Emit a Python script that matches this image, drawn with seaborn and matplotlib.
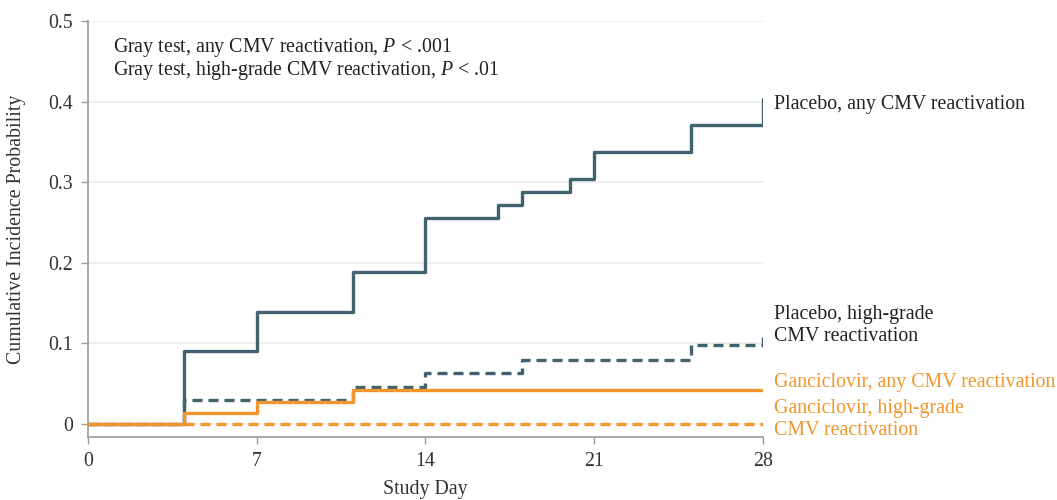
import matplotlib
matplotlib.use("Agg")
import matplotlib.pyplot as plt
import seaborn as sns
import pandas as pd

# Data
placebo_any_days = [0, 4, 7, 11, 14, 17, 18, 20, 21, 25, 28]
placebo_any_vals = [0, 0.091, 0.139, 0.188, 0.255, 0.272, 0.288, 0.304, 0.337, 0.371, 0.403]
placebo_high_days = [0, 4, 11, 14, 18, 25, 28]
placebo_high_vals = [0, 0.030, 0.046, 0.063, 0.080, 0.098, 0.114]
gan_any_days = [0, 4, 7, 11, 28]
gan_any_vals = [0, 0.014, 0.027, 0.042, 0.042]
gan_high_days = [4, 28]
gan_high_vals = [0, 0]
x_ticks = [0, 7, 14, 21, 28]
y_ticks = [0, 0.1, 0.2, 0.3, 0.4, 0.5]
y_tick_labels = ["0", "0.1", "0.2", "0.3", "0.4", "0.5"]

sns.set_theme(style="white")
plt.rcParams['font.family'] = ['Liberation Serif', 'DejaVu Serif']
plt.rcParams['mathtext.fontset'] = 'custom'
plt.rcParams['mathtext.rm'] = 'Liberation Serif'
plt.rcParams['mathtext.it'] = 'Liberation Serif:italic'

BLUE = "#41636f"
ORANGE = "#f0962c"
FS = 14.3

fig = plt.figure(figsize=(10.57, 5.0), dpi=100)
ax = fig.add_axes([88/1057, 1-437/500, (763-88)/1057, (437-21)/500])

for yv in y_ticks:
    ax.axhline(yv, color="#ebebeb", lw=1.2, zorder=0)

def draw(days, vals, color, ls):
    df = pd.DataFrame({"day": days, "p": vals})
    sns.lineplot(data=df, x="day", y="p", ax=ax, color=color, lw=2.4,
                 linestyle=ls, drawstyle="steps-post", zorder=3)

draw(gan_high_days, gan_high_vals, ORANGE, (0, (3, 1.8)))
draw(placebo_high_days, placebo_high_vals, BLUE, (0, (3, 1.8)))
draw(placebo_any_days, placebo_any_vals, BLUE, "-")
draw(gan_any_days, gan_any_vals, ORANGE, "-")

ax.set_xlim(0, 28)
ax.set_ylim(-0.0161, 0.5)
ax.set_xticks(x_ticks)
ax.set_xticklabels([str(t) for t in x_ticks])
ax.set_yticks(y_ticks)
ax.set_yticklabels(y_tick_labels)
ax.tick_params(axis="both", which="both", direction="out", length=5, width=1,
               color="#999999", labelsize=FS, labelcolor="#333333", pad=6,
               left=True, bottom=True)
for s in ["top", "right"]:
    ax.spines[s].set_visible(False)
for s in ["left", "bottom"]:
    ax.spines[s].set_color("#999999")
    ax.spines[s].set_linewidth(1.2)

ax.set_xlabel("Study Day", fontsize=FS, color="#333333")
ax.xaxis.set_label_coords(0.5, -0.103)
ax.set_ylabel("Cumulative Incidence Probability", fontsize=FS, color="#333333", labelpad=16)

ax.text(1.04, 0.4677, r"Gray test, any CMV reactivation, $\it{P}$ < .001",
        fontsize=FS, color="#222222", va="center", ha="left")
ax.text(1.04, 0.438, r"Gray test, high-grade CMV reactivation, $\it{P}$ < .01",
        fontsize=FS, color="#222222", va="center", ha="left")

lx = 28.45
ax.text(lx, 0.397, "Placebo, any CMV reactivation", fontsize=FS, color="#222222",
        va="center", ha="left", clip_on=False)
ax.text(lx, 0.1222, "Placebo, high-grade\nCMV reactivation", fontsize=FS, color="#222222",
        va="center", ha="left", linespacing=1.15, clip_on=False)
ax.text(lx, 0.051, "Ganciclovir, any CMV reactivation", fontsize=FS, color=ORANGE,
        va="center", ha="left", clip_on=False)
ax.text(lx, 0.0056, "Ganciclovir, high-grade\nCMV reactivation", fontsize=FS, color=ORANGE,
        va="center", ha="left", linespacing=1.15, clip_on=False)

fig.savefig("out.png", dpi=100)
